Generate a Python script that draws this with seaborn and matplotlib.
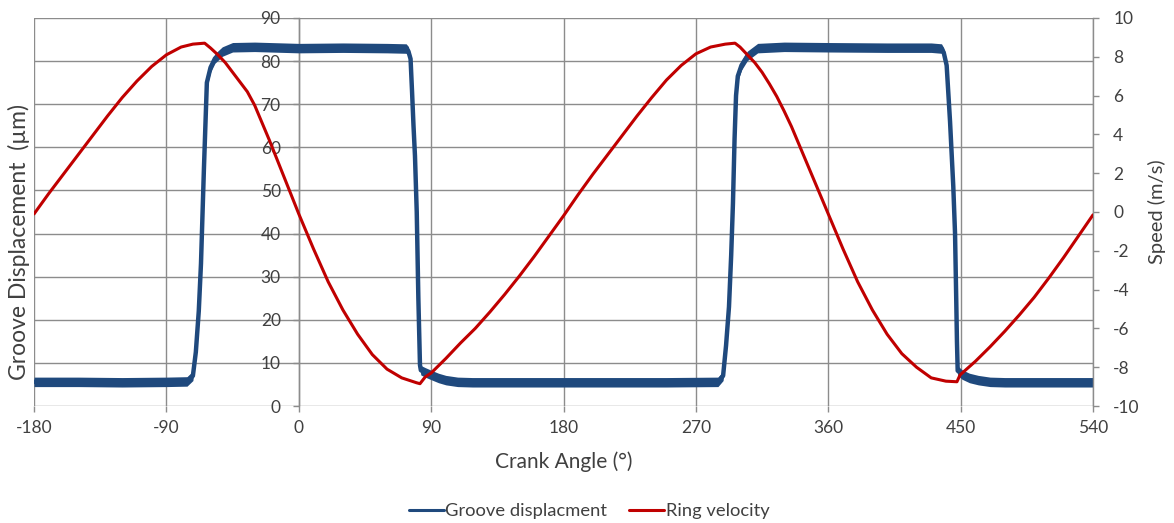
import numpy as np
import pandas as pd
import matplotlib
matplotlib.use("Agg")
import matplotlib.pyplot as plt
import seaborn as sns

# Groove displacement (µm) against crank angle (deg)
groove_angle = [-180, -150, -120, -90, -76, -72, -70, -68, -66.5, -65.5, -64.5, -63.5,
                -62.5, -60, -57, -52, -45, -30, 0, 30, 60, 73, 74.5, 76, 77, 78, 79,
                80.2, 81.3, 82.4, 83, 86, 90, 95, 100, 108, 118, 150, 180, 210, 250,
                285, 288.5, 290.5, 292.5, 294, 295.2, 296.3, 297.3, 298.5, 301, 305,
                312, 330, 360, 400, 430, 437, 438.5, 440.5, 442.8, 445, 446.2, 447,
                447.5, 448, 451, 456, 462, 470, 480, 510, 540]
groove_disp = [5.6, 5.6, 5.5, 5.6, 5.7, 7.0, 12.5, 22, 33, 44, 55, 65,
               75, 78.5, 80.6, 82.2, 83.2, 83.3, 83.0, 83.1, 83.0, 82.9, 82.3, 80.5, 73, 65, 58,
               45, 25, 9.5, 8.3, 7.8, 7.2, 6.5, 6.0, 5.6, 5.5, 5.5, 5.5, 5.5, 5.5,
               5.6, 7.0, 14, 23, 35, 47, 62, 72, 76.5, 79, 81.2,
               83, 83.3, 83.2, 83.1, 83.1, 82.9, 82, 79, 66, 51, 40, 25,
               15, 8.2, 7.3, 6.5, 6.0, 5.6, 5.5, 5.5, 5.5]
# scatter band of the displacement signal (± µm)
groove_band = 1.1

# Ring velocity (m/s) against crank angle (deg)
ring_angle = [-180, -170, -160, -150, -140, -130, -120, -110, -100, -90, -80, -72, -64,
              -60, -55, -50, -45, -40, -35, -30, -25, -20, -15, -10, -5, 0,
              10, 20, 30, 40, 50, 60, 70, 80, 82.4, 86,
              90, 100, 110, 120, 130, 140, 150, 160, 170, 180, 190, 200, 210, 220,
              230, 240, 250, 260, 270, 280, 290, 296.6,
              300, 305, 310, 315, 320, 325, 330, 335, 340, 345, 350, 355, 360,
              370, 380, 390, 400, 410, 420, 430, 440, 447.5, 449.6,
              460, 470, 480, 490, 500, 510, 520, 530, 540]
ring_vel = [-0.1, 0.95, 1.95, 2.95, 3.95, 4.95, 5.9, 6.75, 7.5, 8.1, 8.5, 8.65, 8.7,
            8.45, 8.1, 7.7, 7.2, 6.7, 6.2, 5.5, 4.6, 3.7, 2.75, 1.8, 0.85, -0.1,
            -1.9, -3.6, -5.05, -6.3, -7.35, -8.1, -8.55, -8.8, -8.85, -8.5,
            -8.3, -7.55, -6.75, -6.0, -5.15, -4.25, -3.3, -2.3, -1.25, -0.2, 0.9, 1.95, 2.95, 3.95,
            4.95, 5.9, 6.8, 7.55, 8.15, 8.5, 8.65, 8.7,
            8.5, 8.1, 7.7, 7.2, 6.6, 5.95, 5.2, 4.4, 3.5, 2.6, 1.7, 0.8, -0.1,
            -1.9, -3.6, -5.05, -6.3, -7.3, -8.0, -8.55, -8.72, -8.75, -8.4,
            -7.7, -6.95, -6.15, -5.3, -4.4, -3.4, -2.35, -1.25, -0.15]

x_ticks = [-180, -90, 0, 90, 180, 270, 360, 450, 540]
left_ticks = list(range(0, 91, 10))
right_ticks = list(range(-10, 11, 2))

BLUE = "#1F497D"
RED = "#C00000"
GRID = "#8C8C8C"
TEXT = "#404040"

sns.set_style("white")
plt.rcParams["font.family"] = ["Lato", "DejaVu Sans"]
plt.rcParams["axes.unicode_minus"] = False

groove = pd.DataFrame({"angle": groove_angle, "disp": groove_disp})
ring = pd.DataFrame({"angle": ring_angle, "vel": ring_vel})

fig = plt.figure(figsize=(11.74, 5.23), dpi=100)
ax = fig.add_axes([0.029, 0.2237, 0.902, 0.742])

ax.fill_between(groove["angle"], groove["disp"] - groove_band, groove["disp"] + groove_band,
                color=BLUE, linewidth=0, zorder=3)
sns.lineplot(data=groove, x="angle", y="disp", ax=ax, color=BLUE, linewidth=3.2,
             estimator=None, sort=False, label="Groove displacment", legend=False, zorder=3)

ax.set_xlim(-180, 540)
ax.set_ylim(0, 90)
ax.set_xticks(x_ticks)
ax.set_yticks(left_ticks)
ax.grid(True, color=GRID, linewidth=1.0)
ax.set_axisbelow(True)
for side in ["top", "right", "bottom"]:
    ax.spines[side].set_visible(False)
ax.spines["left"].set_position(("data", 0))
ax.spines["left"].set_color(GRID)
ax.spines["left"].set_linewidth(1.0)
ax.tick_params(axis="y", length=4, width=1, color=GRID, pad=9, labelsize=12.5, labelcolor=TEXT)
ax.tick_params(axis="x", length=4, width=1, color=GRID, pad=6, labelsize=12.5, labelcolor=TEXT,
               bottom=True)
ax.set_xlabel("Crank Angle (°)", fontsize=15, color=TEXT, labelpad=11)
ax.set_ylabel("")
fig.text(0.016, 0.537, "Groove Displacement  (µm)", rotation=90, ha="center", va="center",
         fontsize=16.5, color=TEXT)

ax2 = ax.twinx()
sns.lineplot(data=ring, x="angle", y="vel", ax=ax2, color=RED, linewidth=2.2,
             estimator=None, sort=False, label="Ring velocity", legend=False, zorder=4)
ax2.set_ylim(-10, 10)
ax2.set_yticks(right_ticks)
for side in ["top", "left", "bottom"]:
    ax2.spines[side].set_visible(False)
ax2.spines["right"].set_color(GRID)
ax2.spines["right"].set_linewidth(1.0)
ax2.tick_params(axis="y", length=4.5, width=1, color=GRID, pad=10, labelsize=12.5, labelcolor=TEXT)
ax2.set_ylabel("Speed (m/s)", fontsize=14.5, color=TEXT, labelpad=6)
ax2.set_xlabel("")

handles = [plt.Line2D([], [], color=BLUE, linewidth=2.2),
           plt.Line2D([], [], color=RED, linewidth=2.2)]
fig.legend(handles, ["Groove displacment", "Ring velocity"], loc="center",
           bbox_to_anchor=(0.502, 0.023), ncol=2, frameon=False, fontsize=13.2,
           handlelength=1.9, handletextpad=0.1, columnspacing=1.2, labelcolor=TEXT)

fig.savefig("out.png", dpi=100)
